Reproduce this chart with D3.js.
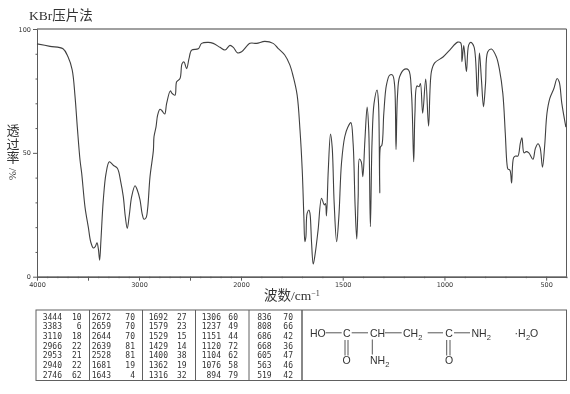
<!DOCTYPE html>
<html><head><meta charset="utf-8">
<script src="https://cdn.jsdelivr.net/npm/d3@7"></script>
<style>html,body{margin:0;background:#fff}svg{display:block;filter:blur(0.3px)}</style></head>
<body><svg id="c" width="570" height="394"></svg>
<script>
const wavenumbers=[4000,3872,3745,3696,3655,3627,3605,3578,3562,3529,3497,3473,3448,3431,3412,3399,3386,3373,3350,3323,3291,3252,3212,3179,3154,3134,3115,3095,3072,3039,3017,2990,2970,2951,2931,2915,2892,2859,2853,2833,2817,2794,2775,2748,2729,2693,2676,2647,2631,2598,2578,2559,2533,2510,2484,2419,2386,2321,2272,2206,2157,2108,2075,2036,1997,1956,1923,1883,1842,1818,1785,1760,1743,1724,1710,1699,1691,1686,1681,1675,1666,1661,1653,1645,1635,1621,1604,1591,1585,1580,1571,1560,1552,1542,1530,1519,1506,1490,1474,1460,1449,1439,1431,1424,1418,1409,1401,1391,1380,1372,1364,1356,1346,1331,1324,1318,1314,1308,1298,1285,1269,1255,1245,1238,1231,1220,1195,1176,1162,1151,1145,1135,1125,1118,1107,1092,1078,1064,1048,1007,974,935,920,914,905,892,881,871,855,838,828,818,808,798,787,769,745,729,713,701,693,688,678,670,660,650,639,627,619,609,598,585,565,553,540,530,518,507,496,482,462,446,436,423,403];
const transmittance=[94,93,92,88.8,83.5,72.7,60.5,47,41.8,28,20,14,11.6,12,13.7,11.4,6.7,14.8,31,41.7,46.4,45,43.8,38.3,32.3,24.2,19.5,24.9,32.3,36.7,35,31,25.6,23.2,23.8,27.6,40.4,51,56.5,60.5,65.3,67.6,67,65.7,70,75,74,73.3,78.7,80,86,86.7,84,88,91.5,92,94.2,94.6,94.2,92.6,91.5,93.4,92.6,90.4,90.8,94.2,94.2,95,94.2,92.2,89.5,85.5,80.7,73.3,59.2,43,24.2,14.1,16.1,25.6,26.9,25.6,13.5,5.1,9.5,18.9,31.7,29,29.5,24.5,43,57.6,52.5,29.7,14.1,24.2,45.9,56.5,60.5,62.2,54,28.3,15.2,32.3,47.5,46.4,40.4,55,68.5,59,20.2,54,70,75.4,70,33.8,52.5,53,66,77.4,81.4,81.4,77.4,51.4,72.7,80.8,83.8,83.4,74,46.4,66,77,76.7,78,66,79.8,60.8,82.8,86.3,88.7,91.5,94.7,94.4,86.8,93.3,82.8,93.5,94.6,92.9,72.7,90.3,79.4,68.6,78,90.8,91.9,88.8,83.4,74,58,45.9,43.5,43,37.8,48,48.7,48.7,53.9,56.1,50,50.5,50,47.4,51.8,53.7,52.2,44.2,53.2,66,72,76,80,78.7,70,60.4];
const xMajorTicks=[4000,3000,2000,1500,1000,500];
const xMidTicks=[3500,2500];
const xMinorTicks=[3900,3800,3700,3600,3400,3300,3200,3100,2900,2800,2700,2600,2400,2300,2200,2100,1900,1800,1700,1600,1400,1300,1200,1100,900,800,700,600,400];
const yMajorTicks=[0,50,100];
const yMinorTicks=[10,20,30,40,60,70,80,90];
const peakColumns=[
 [[3444,10],[3383,6],[3110,18],[2966,22],[2953,21],[2940,22],[2746,62]],
 [[2672,70],[2659,70],[2644,70],[2639,81],[2528,81],[1681,19],[1643,4]],
 [[1692,27],[1579,23],[1529,15],[1429,14],[1400,38],[1362,19],[1316,32]],
 [[1306,60],[1237,49],[1151,44],[1120,72],[1104,62],[1076,58],[894,79]],
 [[836,70],[808,66],[686,42],[668,36],[605,47],[563,46],[519,42]]
];
const titleText="KBr压片法";
const yLabelChars=["透","过","率"];

const svg=d3.select("#c");
const x=d3.scaleLinear().domain([4000,2000,400]).range([37,241,566.5]);
const y=d3.scaleLinear().domain([0,100]).range([276.7,29]);
const AX="#5a5a5a", TXT="#333";

const serif="'Liberation Serif','Noto Sans CJK SC',serif";
svg.append("text").attr("x",29).attr("y",20).attr("font-family",serif).attr("font-size",13.5).attr("fill","#333").text(titleText);

// frame
svg.append("line").attr("x1",x(4000)).attr("x2",x(400)).attr("y1",y(100)).attr("y2",y(100)).attr("stroke","#808080").attr("stroke-width",1.6);
svg.append("line").attr("x1",x(400)).attr("x2",x(400)).attr("y1",y(100)).attr("y2",y(0)).attr("stroke",AX).attr("stroke-width",1);

function axisStyle(g){
  g.select(".domain").attr("stroke",AX).attr("stroke-width",1);
  g.selectAll(".tick line").attr("stroke",AX);
  g.selectAll("text").attr("font-family","'DejaVu Sans',sans-serif").attr("font-size",6.5).attr("fill",TXT);
}
const gx=svg.append("g").attr("transform",`translate(0,${y(0)})`);
gx.append("g").call(d3.axisBottom(x).tickValues(xMajorTicks).tickSize(4).tickSizeOuter(0).tickFormat(d3.format("d")).tickPadding(1.5)).call(axisStyle);
gx.append("g").call(d3.axisBottom(x).tickValues(xMidTicks).tickSize(4).tickSizeOuter(0).tickFormat("")).call(axisStyle);
gx.append("g").call(d3.axisBottom(x).tickValues(xMinorTicks).tickSize(1.5).tickSizeOuter(0).tickFormat("")).call(axisStyle);

const gy=svg.append("g").attr("transform",`translate(${x(4000)},0)`);
gy.append("g").call(d3.axisLeft(y).tickValues(yMajorTicks).tickSize(4).tickSizeOuter(0).tickFormat(d3.format("d")).tickPadding(2)).call(axisStyle);
gy.append("g").call(d3.axisLeft(y).tickValues(yMinorTicks).tickSize(1.5).tickSizeOuter(0).tickFormat("")).call(axisStyle);

// spectrum
const line=d3.line().x((d,i)=>x(wavenumbers[i])).y(d=>y(d)).curve(d3.curveCatmullRom.alpha(0.5));
svg.append("path").attr("d",line(transmittance)).attr("fill","none").attr("stroke","#404040").attr("stroke-width",1.1).attr("stroke-linejoin","round");

// y label
yLabelChars.forEach((c,i)=>svg.append("text").attr("x",13).attr("y",135+i*13.5).attr("text-anchor","middle")
  .attr("font-family",serif).attr("font-size",13).attr("fill","#333").text(c));
svg.append("text").attr("transform","translate(9,174) rotate(90)").attr("font-family",serif).attr("font-size",11).attr("fill","#333").attr("text-anchor","middle").text("/%");

// x label
const xl=svg.append("text").attr("x",264).attr("y",300).attr("font-family",serif).attr("font-size",13.5).attr("fill","#333");
xl.append("tspan").text("波数/cm");
xl.append("tspan").attr("dy",-4).attr("font-size",8).text("−1");

// table
const T=svg.append("g");
T.append("rect").attr("x",36).attr("y",310).attr("width",530.5).attr("height",70.5).attr("fill","none").attr("stroke","#606060").attr("stroke-width",1);
const dividers=[89.5,142.5,195.5,249,302];
dividers.forEach(v=>T.append("line").attr("x1",v).attr("x2",v).attr("y1",310).attr("y2",380.5).attr("stroke","#606060").attr("stroke-width",v===302?1.5:1));
const colW=[62,111,168,221,271.7], colI=[81.7,135,186.7,238,293];
const rowY=d3.scaleLinear().domain([0,6]).range([319.5,377.5]);
peakColumns.forEach((col,ci)=>col.forEach((r,ri)=>{
  [[r[0],colW[ci]],[r[1],colI[ci]]].forEach(([v,px])=>T.append("text").attr("x",px).attr("y",rowY(ri)).attr("text-anchor","end")
    .attr("font-family","'DejaVu Sans Mono',monospace").attr("font-size",8).attr("fill",TXT).text(v));
}));

// structure
const S=svg.append("g").attr("font-family","'Liberation Sans',sans-serif").attr("font-size",10.5).attr("fill","#333");
function t(px,py,s,sub,anchor){
  const e=S.append("text").attr("x",px).attr("y",py).attr("text-anchor",anchor||"start").text(s);
  if(sub){e.append("tspan").attr("dy",3).attr("font-size",7.5).text(sub);}
  return e;
}
t(310,336.5,"HO");t(346.7,336.5,"C",null,"middle");t(370,336.5,"CH");t(403,336.5,"CH","2");t(449,336.5,"C",null,"middle");t(471.5,336.5,"NH","2");
t(514.5,336.5,"·H");S.append("text").attr("x",526).attr("y",339.5).attr("font-size",7.5).text("2");S.append("text").attr("x",530).attr("y",336.5).text("O");
t(346.7,364,"O",null,"middle");t(449,364,"O",null,"middle");t(370,364,"NH","2");
const bonds=[[325.7,332.8,341.7,332.8],[351.7,332.8,368,332.8],[385,332.8,401.7,332.8],[427.7,332.8,443,332.8],[454,332.8,470,332.8],
 [345,340,345,355.5],[348,340,348,355.5],[372.3,339.5,372.3,354.5],[446.7,340,446.7,355.5],[450,340,450,355.5]];
bonds.forEach(b=>S.append("line").attr("x1",b[0]).attr("y1",b[1]).attr("x2",b[2]).attr("y2",b[3]).attr("stroke","#444").attr("stroke-width",0.9));
</script></body></html>
